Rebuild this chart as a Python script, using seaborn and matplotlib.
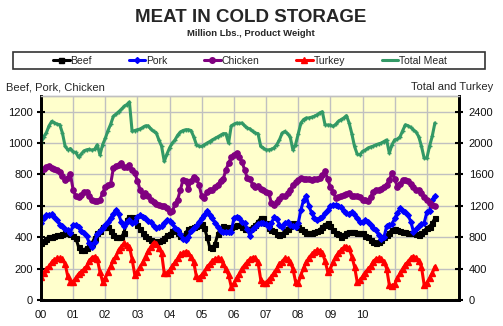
import numpy as np
import pandas as pd
import matplotlib
matplotlib.use("Agg")
import matplotlib.pyplot as plt
from matplotlib.lines import Line2D
from matplotlib.patches import Rectangle
import seaborn as sns

sns.set_style("white")
plt.rcParams['font.family'] = ['Liberation Sans', 'DejaVu Sans']

# ---------------- data (monthly, Jan 2000 - Apr 2012) ----------------
beef = [362, 375, 390, 404, 404, 410, 415, 415, 420, 426, 426, 420,
        410, 394, 340, 319, 320, 330, 345, 362, 394, 426, 440, 468,
        468, 468, 440, 415, 404, 400, 400, 430, 511, 532, 530, 515,
        480, 450, 426, 410, 395, 385, 375, 372, 375, 380, 395, 415,
        420, 440, 447, 430, 410, 400, 430, 450, 458, 465, 470, 480,
        485, 460, 400, 335, 330, 360, 420, 460, 470, 465, 460, 465,
        470, 475, 480, 465, 455, 450, 455, 465, 480, 500, 521, 520,
        489, 460, 447, 440, 420, 415, 420, 440, 455, 470, 489, 480,
        468, 455, 440, 426, 426, 430, 436, 440, 447, 468, 480, 489,
        470, 447, 426, 420, 404, 415, 430, 436, 436, 436, 430, 426,
        426, 410, 400, 385, 372, 362, 368, 385, 400, 415, 430, 447,
        450, 447, 440, 436, 436, 430, 430, 426, 420, 415, 426, 440,
        460, 468, 489, 521]

pork = [489, 525, 540, 543, 545, 530, 511, 479, 470, 455, 447, 430,
        479, 479, 465, 440, 426, 410, 362, 340, 370, 420, 440, 460,
        479, 500, 525, 550, 574, 545, 495, 470, 495, 511, 490, 500,
        532, 540, 530, 521, 505, 500, 470, 460, 465, 470, 490, 511,
        505, 490, 460, 447, 420, 390, 383, 400, 440, 460, 470, 500,
        521, 543, 564, 540, 520, 490, 468, 440, 436, 436, 436, 436,
        521, 532, 525, 495, 489, 450, 410, 450, 468, 485, 490, 489,
        485, 468, 489, 530, 515, 480, 468, 489, 495, 480, 470, 468,
        489, 574, 638, 660, 600, 553, 525, 511, 520, 530, 553, 574,
        600, 606, 606, 596, 590, 565, 553, 550, 560, 550, 520, 500,
        495, 511, 495, 480, 460, 445, 415, 390, 400, 470, 475, 485,
        520, 553, 585, 570, 560, 540, 500, 436, 450, 470, 485, 490,
        560, 570, 638, 660]

chicken = [828, 835, 845, 855, 840, 835, 830, 815, 790, 766, 780, 800,
           702, 660, 655, 670, 690, 691, 660, 640, 628, 630, 640, 680,
           723, 730, 740, 840, 855, 862, 870, 850, 845, 862, 830, 809,
           760, 702, 660, 680, 665, 640, 625, 610, 605, 600, 596, 585,
           560, 565, 610, 640, 700, 766, 760, 710, 760, 787, 770, 734,
           660, 649, 690, 702, 700, 720, 734, 760, 770, 830, 870, 910,
           926, 936, 910, 880, 830, 777, 770, 734, 720, 725, 705, 702,
           690, 681, 617, 606, 625, 645, 660, 662, 680, 702, 734, 750,
           765, 777, 770, 772, 772, 766, 770, 772, 775, 795, 820, 770,
           720, 690, 650, 655, 665, 670, 675, 681, 665, 660, 660, 655,
           640, 638, 630, 655, 690, 702, 700, 710, 720, 735, 766, 809,
           770, 723, 740, 766, 766, 760, 740, 720, 702, 700, 680, 655,
           640, 617, 606, 596]

# right axis series (million lbs)
turkey = [298, 350, 390, 430, 480, 510, 532, 532, 524, 460, 300, 234,
          234, 280, 330, 360, 390, 430, 500, 540, 554, 520, 360, 234,
          280, 362, 430, 510, 560, 638, 680, 724, 700, 680, 520, 320,
          362, 420, 480, 554, 620, 680, 730, 720, 660, 600, 340, 340,
          380, 430, 480, 530, 580, 600, 616, 600, 554, 480, 300, 280,
          320, 362, 420, 460, 500, 524, 532, 524, 460, 390, 320, 170,
          212, 280, 330, 400, 446, 480, 524, 540, 536, 480, 260, 212,
          220, 260, 298, 350, 400, 460, 490, 532, 524, 480, 400, 234,
          212, 320, 410, 480, 540, 580, 610, 638, 630, 600, 500, 362,
          400, 480, 554, 596, 638, 670, 680, 660, 554, 426, 234, 250,
          300, 350, 390, 430, 490, 524, 532, 524, 490, 400, 190, 180,
          200, 276, 340, 400, 450, 490, 532, 554, 540, 500, 420, 192,
          220, 280, 340, 426]

total = [2000, 2080, 2132, 2220, 2276, 2260, 2240, 2234, 2128, 1960, 1914, 1930,
         1890, 1880, 1820, 1860, 1900, 1914, 1920, 1910, 1920, 1978, 1850, 1980,
         2060, 2160, 2240, 2340, 2370, 2400, 2430, 2468, 2490, 2524, 2150, 2160,
         2170, 2180, 2200, 2220, 2220, 2180, 2150, 2132, 2040, 1960, 1766, 1860,
         1940, 2000, 2040, 2100, 2140, 2160, 2170, 2170, 2160, 2080, 1980, 1960,
         1958, 1980, 2000, 2020, 2042, 2060, 2080, 2100, 2120, 2120, 2000, 2220,
         2240, 2256, 2250, 2256, 2220, 2192, 2180, 2150, 2128, 2120, 1958, 1936,
         1914, 1914, 1920, 1940, 1980, 2042, 2128, 2148, 2120, 2080, 1914, 1980,
         2120, 2256, 2300, 2320, 2320, 2330, 2340, 2360, 2384, 2400, 2234, 2230,
         2230, 2212, 2240, 2276, 2300, 2320, 2350, 2256, 2120, 1958, 1860, 1850,
         1894, 1910, 1936, 1950, 1960, 1978, 1990, 2000, 2020, 2040, 1872, 1980,
         2042, 2050, 2080, 2160, 2234, 2220, 2200, 2170, 2140, 2080, 1958, 1808,
         1808, 1958, 2086, 2256]

xticklabels = ['00', '01', '02', '03', '04', '05', '06', '07', '08', '09', '10', '', '', '']
left_ticks = [0, 200, 400, 600, 800, 1000, 1200]
right_ticks = [0, 400, 800, 1200, 1600, 2000, 2400]

n = len(beef)
t = 2000 + np.arange(n) / 12.0
df = pd.DataFrame({'t': t, 'Beef': beef, 'Pork': pork, 'Chicken': chicken,
                   'Turkey': turkey, 'Total Meat': total})

W, H = 503, 326
fig = plt.figure(figsize=(W / 100, H / 100), dpi=100)
ax = fig.add_axes([41 / W, 26 / H, 418 / W, 204 / H])
ax2 = ax.twinx()

ax.set_facecolor('#FFFFCC')
ax2.patch.set_visible(False)

lw = 2.2
styles = {
    'Beef': dict(color='black', marker='s', ms=3.6),
    'Pork': dict(color='#0000FF', marker='D', ms=3.0),
    'Chicken': dict(color='#800080', marker='o', ms=4.0),
    'Turkey': dict(color='#FF0000', marker='^', ms=4.0),
    'Total Meat': dict(color='#339966', marker='+', ms=3.0),
}

for name in ['Beef', 'Pork', 'Chicken']:
    st = styles[name]
    sns.lineplot(data=df, x='t', y=name, ax=ax, color=st['color'], marker=st['marker'],
                 markersize=st['ms'], markeredgecolor=st['color'], markeredgewidth=0.8,
                 linewidth=lw, sort=False, legend=False)
for name in ['Turkey', 'Total Meat']:
    st = styles[name]
    sns.lineplot(data=df, x='t', y=name, ax=ax2, color=st['color'], marker=st['marker'],
                 markersize=st['ms'], markeredgecolor=st['color'], markeredgewidth=1.0,
                 linewidth=lw, sort=False, legend=False)

ax.set_xlim(2000, 2013)
ax.set_ylim(0, 1300)
ax2.set_ylim(0, 2600)
ax.set_xticks(np.arange(2000, 2014))
ax.set_xticklabels(xticklabels)
ax.set_yticks(left_ticks)
ax2.set_yticks(right_ticks)
ax.set_xlabel('')
ax.set_ylabel('')
ax2.set_ylabel('')

ax.grid(True, color='#C0C0C0', linewidth=1.0)
ax.set_axisbelow(True)
ax2.grid(False)

for a in (ax, ax2):
    for s in ['left', 'bottom', 'right']:
        a.spines[s].set_color('black')
        a.spines[s].set_linewidth(2.0)
    a.spines['top'].set_color('#C0C0C0')
    a.spines['top'].set_linewidth(1.0)

ax.tick_params(axis='both', direction='inout', length=6, width=1.5, labelsize=8,
               colors='black', labelcolor='#111111')
ax.tick_params(axis='x', pad=4)
ax.tick_params(axis='y', pad=3)
ax2.tick_params(axis='y', direction='inout', length=6, width=1.5, labelsize=8,
                colors='black', labelcolor='#111111', pad=4)

# titles
fig.text(251 / W, 1 - 17 / H, 'MEAT IN COLD STORAGE', ha='center', va='center',
         fontsize=13.5, fontweight='bold')
fig.text(251 / W, 1 - 33 / H, 'Million Lbs., Product Weight', ha='center', va='center',
         fontsize=6.8, fontweight='bold')
fig.text(6 / W, 1 - 87 / H, 'Beef, Pork, Chicken', ha='left', va='center', fontsize=8)
fig.text(493 / W, 1 - 87 / H, 'Total and Turkey', ha='right', va='center', fontsize=8)

# legend
fig.patches.append(Rectangle((13 / W, 1 - 69 / H), 472 / W, 17 / H, transform=fig.transFigure,
                             facecolor='white', edgecolor='#333333', linewidth=1.2, zorder=0))
handles = []
labels = ['Beef', 'Pork', 'Chicken', 'Turkey', 'Total Meat']
for name in labels:
    st = styles[name]
    mk = st['marker'] if name != 'Total Meat' else None
    handles.append(Line2D([], [], color=st['color'], marker=mk, ms=st['ms'],
                          markeredgecolor=st['color'], linewidth=lw))
fig.legend(handles, labels, loc='center', bbox_to_anchor=(250 / W, 1 - 60.5 / H),
           ncol=5, frameon=False, fontsize=7.5, handlelength=1.6, handletextpad=0.1,
           columnspacing=3.5, borderpad=0)

fig.savefig('out.png', dpi=100)
